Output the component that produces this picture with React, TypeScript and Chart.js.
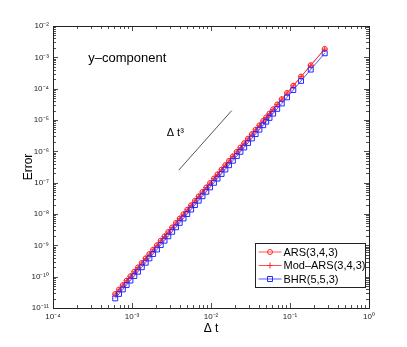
import React, { useEffect, useRef } from "react";
import { Chart, registerables } from "chart.js";

Chart.register(...registerables);

// Time step sizes (Δt)
const dtValues = [
  0.275, 0.183, 0.138, 0.11, 0.0917, 0.0786, 0.0688, 0.0611, 0.055, 0.05,
  0.0458, 0.041, 0.0367, 0.0329, 0.0294, 0.0263, 0.0236, 0.0212, 0.0189, 0.0169,
  0.0152, 0.0136, 0.0121, 0.0109, 0.00973, 0.00872, 0.0078, 0.00699, 0.00626, 0.0056,
  0.00501, 0.00449, 0.00402, 0.0036, 0.00322, 0.00288, 0.00258, 0.00231, 0.00207, 0.00185,
  0.00166, 0.00149, 0.00133, 0.00119, 0.00107, 0.000955, 0.000855, 0.000765, 0.000685, 0.000613,
];

const arsError = [
  1.85e-3, 5.58e-4, 2.43e-4, 1.24e-4, 7.26e-5, 4.61e-5, 3.11e-5, 2.19e-5, 1.61e-5, 1.21e-5,
  9.38e-6, 6.76e-6, 4.88e-6, 3.53e-6, 2.53e-6, 1.82e-6, 1.32e-6, 9.66e-7, 6.89e-7, 4.95e-7,
  3.62e-7, 2.61e-7, 1.85e-7, 1.36e-7, 9.7e-8, 7.03e-8, 5.06e-8, 3.66e-8, 2.64e-8, 1.9e-8,
  1.37e-8, 9.91e-9, 7.16e-9, 5.17e-9, 3.72e-9, 2.67e-9, 1.93e-9, 1.4e-9, 1.01e-9, 7.25e-10,
  5.27e-10, 3.83e-10, 2.74e-10, 1.97e-10, 1.44e-10, 1.03e-10, 7.44e-11, 5.36e-11, 3.86e-11, 2.79e-11,
];

const modArsError = [
  1.83e-3, 5.55e-4, 2.42e-4, 1.23e-4, 7.22e-5, 4.59e-5, 3.1e-5, 2.18e-5, 1.6e-5, 1.2e-5,
  9.33e-6, 6.73e-6, 4.86e-6, 3.51e-6, 2.52e-6, 1.81e-6, 1.31e-6, 9.61e-7, 6.86e-7, 4.93e-7,
  3.6e-7, 2.6e-7, 1.84e-7, 1.35e-7, 9.66e-8, 7.0e-8, 5.04e-8, 3.64e-8, 2.63e-8, 1.89e-8,
  1.36e-8, 9.87e-9, 7.13e-9, 5.15e-9, 3.7e-9, 2.66e-9, 1.92e-9, 1.39e-9, 1.0e-9, 7.22e-10,
  5.25e-10, 3.81e-10, 2.73e-10, 1.96e-10, 1.43e-10, 1.03e-10, 7.41e-11, 5.34e-11, 3.84e-11, 2.78e-11,
];

const bhrError = [
  1.35e-3, 4.07e-4, 1.77e-4, 9.06e-5, 5.3e-5, 3.36e-5, 2.27e-5, 1.6e-5, 1.17e-5, 8.85e-6,
  6.84e-6, 4.93e-6, 3.56e-6, 2.58e-6, 1.85e-6, 1.33e-6, 9.66e-7, 7.05e-7, 5.02e-7, 3.61e-7,
  2.64e-7, 1.9e-7, 1.35e-7, 9.9e-8, 7.08e-8, 5.13e-8, 3.69e-8, 2.67e-8, 1.93e-8, 1.39e-8,
  1.0e-8, 7.23e-9, 5.22e-9, 3.77e-9, 2.71e-9, 1.95e-9, 1.41e-9, 1.02e-9, 7.37e-10, 5.29e-10,
  3.85e-10, 2.79e-10, 2.0e-10, 1.44e-10, 1.05e-10, 7.52e-11, 5.43e-11, 3.91e-11, 2.82e-11, 2.03e-11,
];

// Δt^3 reference slope segment
const slopeDt = [0.0039, 0.0183];
const slopeErr = [2.5e-7, 2.0e-5];

const seriesLabels = ["ARS(3,4,3)", "Mod–ARS(3,4,3)", "BHR(5,5,3)"];
const seriesColors = ["rgb(255,40,40)", "rgb(255,40,40)", "rgb(40,40,255)"];

const xMin = 1e-4;
const xMax = 1;
const yMin = 1e-11;
const yMax = 1e-2;

const panelTitle = "y–component";
const slopeLabel = "Δ t³";
const xTitle = "Δ t";
const yTitle = "Error";

const SUP: Record<string, string> = {
  "-": "⁻", "0": "⁰", "1": "¹", "2": "²", "3": "³", "4": "⁴",
  "5": "⁵", "6": "⁶", "7": "⁷", "8": "⁸", "9": "⁹",
};

function powLabel(v: number): string {
  const p = Math.round(Math.log10(v));
  if (Math.abs(Math.log10(v) - p) > 1e-6) return "";
  return "10" + String(p).split("").map((c) => SUP[c] || c).join("");
}

function isMajor(v: number): boolean {
  const l = Math.log10(v);
  return Math.abs(l - Math.round(l)) < 1e-6;
}

function logTicks(min: number, max: number) {
  const out: { value: number }[] = [];
  const p0 = Math.floor(Math.log10(min));
  const p1 = Math.ceil(Math.log10(max));
  for (let p = p0; p <= p1; p++) {
    for (let m = 1; m <= 9; m++) {
      const v = m * Math.pow(10, p);
      if (v >= min * 0.9999 && v <= max * 1.0001) out.push({ value: v });
    }
  }
  return out;
}

function drawMarker(ctx: CanvasRenderingContext2D, style: string, x: number, y: number, color: string) {
  ctx.save();
  ctx.strokeStyle = color;
  ctx.lineWidth = 1;
  ctx.beginPath();
  if (style === "circle") {
    ctx.arc(x, y, 2.5, 0, Math.PI * 2);
  } else if (style === "cross") {
    ctx.moveTo(x - 3, y);
    ctx.lineTo(x + 3, y);
    ctx.moveTo(x, y - 3);
    ctx.lineTo(x, y + 3);
  } else {
    ctx.rect(x - 2.5, y - 2.5, 5, 5);
  }
  ctx.stroke();
  ctx.restore();
}

const markerStyles = ["circle", "cross", "rect"];

const framePlugin = {
  id: "matlabFrame",
  afterDraw(chart: any) {
    const { ctx, chartArea: ca } = chart;
    const xs = chart.scales.x;
    const ys = chart.scales.y;
    ctx.save();
    // box
    ctx.strokeStyle = "#222";
    ctx.lineWidth = 1;
    ctx.strokeRect(Math.round(ca.left) + 0.5, Math.round(ca.top) + 0.5, Math.round(ca.right - ca.left), Math.round(ca.bottom - ca.top));
    // ticks
    ctx.lineWidth = 0.8;
    ctx.beginPath();
    xs.ticks.forEach((t: any) => {
      const px = Math.round(xs.getPixelForValue(t.value)) + 0.5;
      const len = isMajor(t.value) ? 5 : 3;
      ctx.moveTo(px, ca.bottom);
      ctx.lineTo(px, ca.bottom - len);
      ctx.moveTo(px, ca.top);
      ctx.lineTo(px, ca.top + len);
    });
    ys.ticks.forEach((t: any) => {
      const py = Math.round(ys.getPixelForValue(t.value)) + 0.5;
      const len = isMajor(t.value) ? 5 : 3;
      ctx.moveTo(ca.left, py);
      ctx.lineTo(ca.left + len, py);
      ctx.moveTo(ca.right, py);
      ctx.lineTo(ca.right - len, py);
    });
    ctx.stroke();

    // annotations
    ctx.fillStyle = "#000";
    ctx.textBaseline = "middle";
    ctx.textAlign = "left";
    ctx.font = "13px 'Liberation Sans', Arial, sans-serif";
    ctx.fillText(panelTitle, xs.getPixelForValue(2.8e-4), ys.getPixelForValue(9.5e-4));
    ctx.font = "11px 'Liberation Sans', Arial, sans-serif";
    ctx.fillText(slopeLabel, xs.getPixelForValue(2.75e-3), ys.getPixelForValue(3.8e-6));

    // legend
    const w = 110;
    const h = 44;
    const x0 = Math.round(ca.right - 114) + 0.5;
    const y0 = Math.round(ca.bottom - 65) + 0.5;
    ctx.fillStyle = "#fff";
    ctx.fillRect(x0, y0, w, h);
    ctx.strokeStyle = "#222";
    ctx.lineWidth = 1;
    ctx.strokeRect(x0, y0, w, h);
    ctx.font = "11px 'Liberation Sans', Arial, sans-serif";
    seriesLabels.forEach((lab, i) => {
      const yy = y0 + 8.5 + i * 13.5;
      ctx.strokeStyle = seriesColors[i];
      ctx.lineWidth = 0.8;
      ctx.beginPath();
      ctx.moveTo(x0 + 3, yy);
      ctx.lineTo(x0 + 26, yy);
      ctx.stroke();
      drawMarker(ctx, markerStyles[i], x0 + 14.5, yy, seriesColors[i]);
      ctx.fillStyle = "#000";
      ctx.fillText(lab, x0 + 28, yy + 0.5);
    });
    ctx.restore();
  },
};

export default function App() {
  const canvasRef = useRef<HTMLCanvasElement | null>(null);

  useEffect(() => {
    document.body.style.margin = "0";
    const canvas = canvasRef.current;
    if (!canvas) return;
    Chart.defaults.font.family = "'Liberation Sans', Arial, sans-serif";

    const mk = (vals: number[]) => dtValues.map((d, i) => ({ x: d, y: vals[i] }));

    const chart = new Chart(canvas, {
      type: "line",
      data: {
        datasets: [
          {
            label: "slope",
            data: slopeDt.map((d, i) => ({ x: d, y: slopeErr[i] })),
            borderColor: "#555",
            borderWidth: 1,
            pointRadius: 0,
          },
          {
            label: seriesLabels[2],
            data: mk(bhrError),
            borderColor: seriesColors[2],
            borderWidth: 0.8,
            pointStyle: "rect",
            pointRadius: 3.5,
            pointBorderWidth: 1,
            pointBackgroundColor: "rgba(0,0,0,0)",
            pointBorderColor: seriesColors[2],
          },
          {
            label: seriesLabels[0],
            data: mk(arsError),
            borderColor: seriesColors[0],
            borderWidth: 0.8,
            pointStyle: "circle",
            pointRadius: 2.5,
            pointBorderWidth: 1,
            pointBackgroundColor: "rgba(0,0,0,0)",
            pointBorderColor: seriesColors[0],
          },
          {
            label: seriesLabels[1],
            data: mk(modArsError),
            borderColor: seriesColors[1],
            borderWidth: 0.8,
            pointStyle: "cross",
            pointRadius: 3,
            pointBorderWidth: 1,
            pointBorderColor: seriesColors[1],
          },
        ],
      },
      options: {
        responsive: false,
        animation: false,
        devicePixelRatio: 1,
        layout: { padding: { left: 17, top: 26, right: 38, bottom: 7 } },
        plugins: { legend: { display: false }, tooltip: { enabled: false } },
        scales: {
          x: {
            type: "logarithmic",
            min: xMin,
            max: xMax,
            grid: { display: false, drawTicks: false },
            border: { display: false },
            afterBuildTicks: (s: any) => {
              s.ticks = logTicks(xMin, xMax);
            },
            afterFit: (s: any) => {
              s.height = 32;
            },
            ticks: {
              autoSkip: false,
              maxRotation: 0,
              padding: 4,
              color: "#222",
              font: { size: 8 },
              callback: (v: any) => powLabel(Number(v)),
            },
            title: {
              display: true,
              text: xTitle,
              color: "#000",
              font: { size: 12 },
              padding: { top: 4, bottom: 4 },
            },
          },
          y: {
            type: "logarithmic",
            min: yMin,
            max: yMax,
            grid: { display: false, drawTicks: false },
            border: { display: false },
            afterBuildTicks: (s: any) => {
              s.ticks = logTicks(yMin, yMax);
            },
            afterFit: (s: any) => {
              s.width = 36;
            },
            ticks: {
              autoSkip: false,
              padding: 4,
              color: "#222",
              font: { size: 8 },
              callback: (v: any) => powLabel(Number(v)),
            },
            title: {
              display: true,
              text: yTitle,
              color: "#000",
              font: { size: 12 },
              padding: { top: 4, bottom: 4 },
            },
          },
        },
      },
      plugins: [framePlugin],
    } as any);

    return () => chart.destroy();
  }, []);

  return (
    <div style={{ width: 407, height: 347 }}>
      <canvas ref={canvasRef} width={407} height={347} style={{ display: "block" }} />
    </div>
  );
}
